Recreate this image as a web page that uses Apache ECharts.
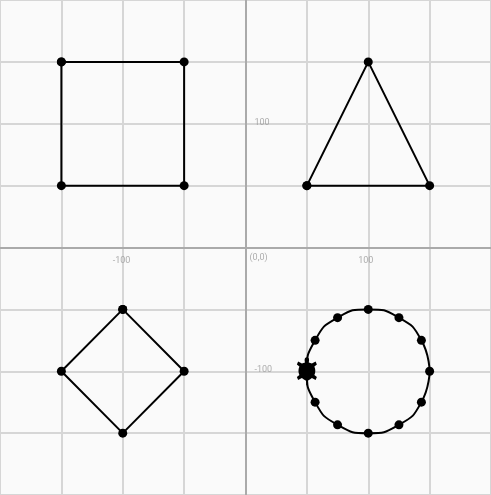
<!DOCTYPE html>
<html><head><meta charset="utf-8">
<script src="https://cdn.jsdelivr.net/npm/echarts@6/dist/echarts.min.js"></script>
<style>html,body{margin:0;padding:0;background:#fafafa}#c{width:491px;height:495px}</style>
</head><body><div id="c"></div>
<script>
// shapes traced by the turtle, in turtle coordinates
const square = [[-150, 150], [-50, 150], [-50, 50], [-150, 50], [-150, 150]];
const triangle = [[50, 50], [100, 150], [150, 50], [50, 50]];
const diamond = [[-100, -50], [-50, -100], [-100, -150], [-150, -100], [-100, -50]];
const circle = [[150, -100], [143.3, -75], [125, -56.7], [100, -50], [75, -56.7], [56.7, -75],
  [50, -100], [56.7, -125], [75, -143.3], [100, -150], [125, -143.3], [143.3, -125], [150, -100]];
const circleDots = circle.filter((p, i) => i !== 6 && i !== 12);
const turtlePos = [[50, -100]];
// axis labels placed on the axes through the origin
const xTickLabels = [[-100, 0, "-100"], [100, 0, "100"]];
const yTickLabels = [[0, 100, "100"], [0, -100, "-100"]];
const originLabel = [[0, 0, "(0,0)"]];

const TURTLE = "path://M0,-13 C2,-13 2,-10 1.5,-8 L4,-7 L7,-9 L8,-6 L6,-4 C7,-1 7,2 6,4 L8,6 L7,9 L4,7 C2,9 1,9 0.5,10 L0.5,14 L-0.5,14 L-0.5,10 C-1,9 -2,9 -4,7 L-7,9 L-8,6 L-6,4 C-7,2 -7,-1 -6,-4 L-8,-6 L-7,-9 L-4,-7 L-1.5,-8 C-2,-10 -2,-13 0,-13 Z";

const lineStyle = { color: "#000", width: 2 };
const dot = { symbol: "circle", symbolSize: 9, itemStyle: { color: "#000", opacity: 1 } };
function shape(data) {
  return { type: "line", data, lineStyle, ...dot, z: 3, silent: true };
}
function labels(data, position) {
  return { type: "scatter", data, symbolSize: 0, silent: true, z: 6,
    label: { show: true, formatter: (p) => p.value[2], position, color: "#999",
      fontSize: 9, fontFamily: "Roboto" } };
}

const axisCommon = {
  type: "value", min: -200, max: 200, interval: 50,
  axisLine: { onZero: true, lineStyle: { color: "#aaa", width: 2 } },
  axisTick: { show: false },
  axisLabel: { show: false },
  splitLine: { show: true, lineStyle: { color: "#d6d6d6", width: 2 } },
};

const chart = echarts.init(document.getElementById("c"));
chart.setOption({
  backgroundColor: "#fafafa",
  animation: false,
  grid: { left: 0, right: 0, top: 0, bottom: 0, outerBoundsMode: "none", containLabel: false },
  xAxis: axisCommon,
  yAxis: axisCommon,
  series: [
    shape(square), shape(triangle), shape(diamond),
    { type: "line", data: circle, smooth: 0.55, lineStyle, showSymbol: false, z: 3, silent: true },
    { type: "scatter", data: circleDots, ...dot, z: 4, silent: true },
    labels(xTickLabels, [-10, 9]),
    labels(yTickLabels, [9, -6]),
    labels(originLabel, [4, 6]),
    { type: "scatter", data: turtlePos, symbol: TURTLE, symbolSize: [20, 28], z: 5, silent: true,
      itemStyle: { color: "#000", opacity: 1 } },
  ],
});
</script></body></html>
